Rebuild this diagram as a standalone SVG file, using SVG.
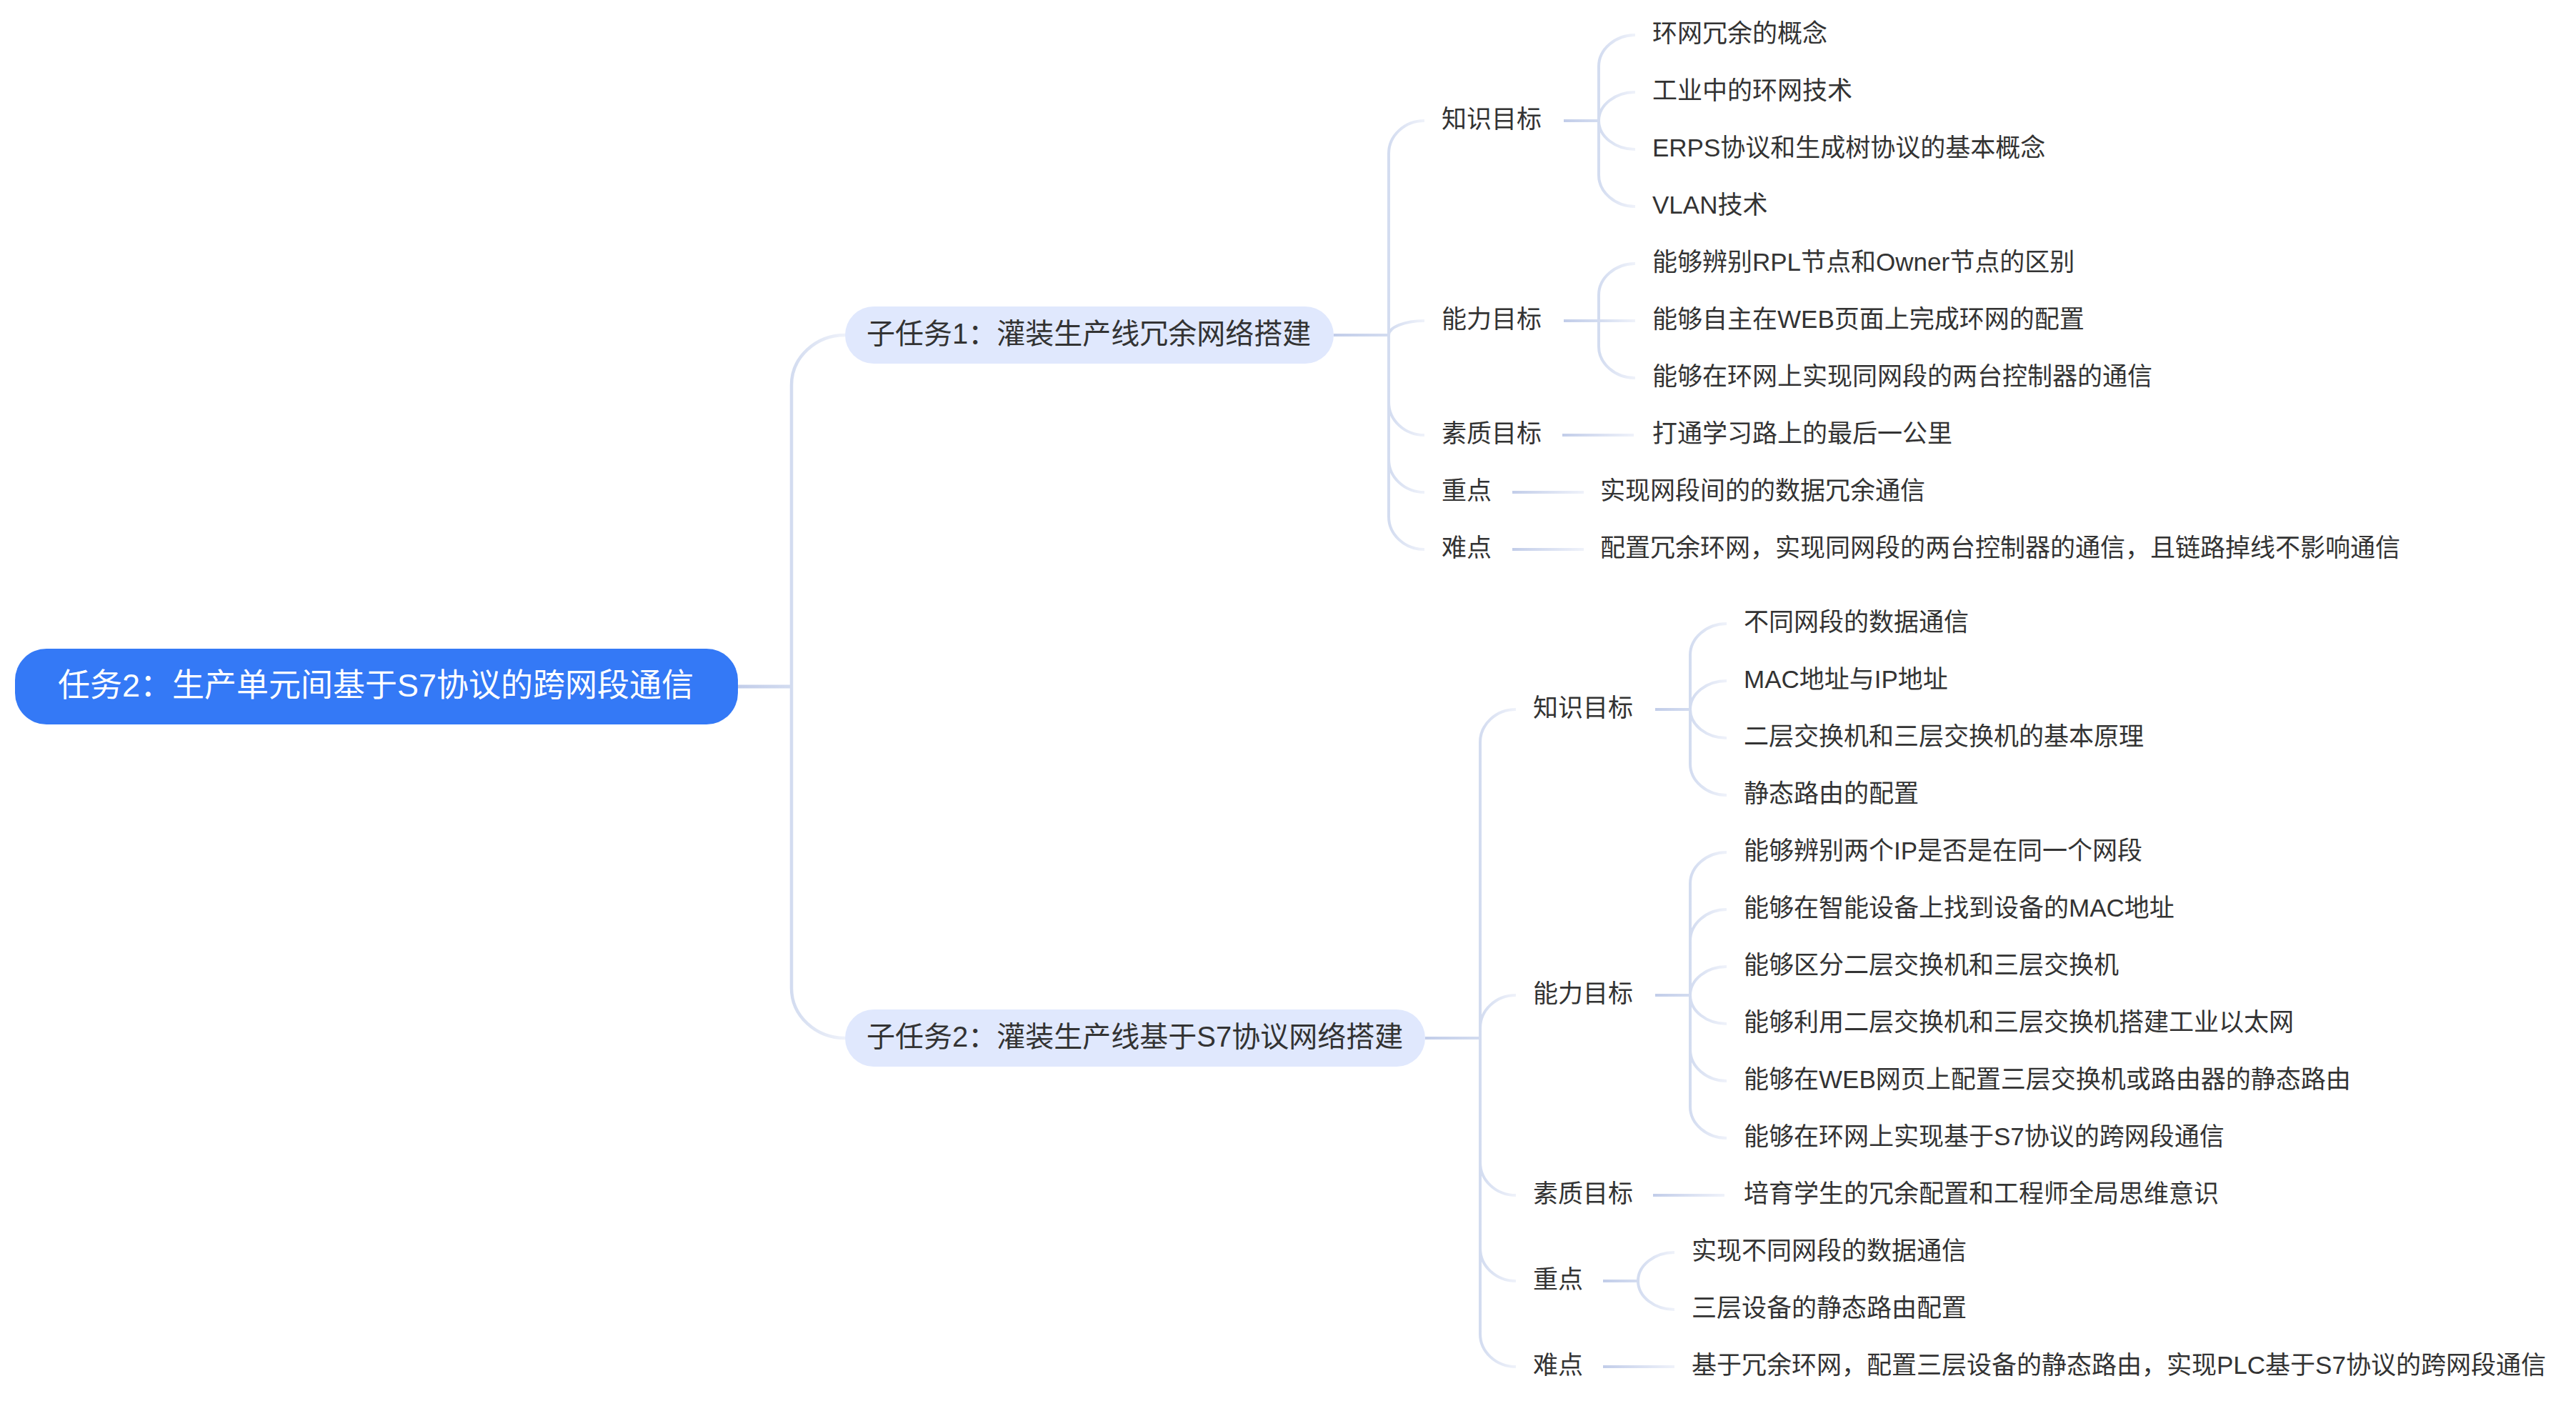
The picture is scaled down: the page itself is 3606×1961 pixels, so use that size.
<svg xmlns="http://www.w3.org/2000/svg" width="3606" height="1961" viewBox="0 0 3606 1961">
<style>
text{font-family:"Liberation Sans","Noto Sans CJK SC",sans-serif;fill:#333333}
.lbl{font-size:35px}
.sub{font-size:40px}
.root{font-size:45px;fill:#ffffff}
.br{fill:none;stroke:url(#gBranch);stroke-width:4}
.br1{fill:none;stroke:url(#gBranch);stroke-width:4.5}
.stub{fill:url(#gStub)}
.leaf{fill:url(#gLeaf)}
.subbox{fill:#e0e8fd}
</style>
<defs>
<linearGradient id="gBranch" x1="0" y1="0" x2="1" y2="0">
<stop offset="0" stop-color="#d3dcf0"/>
<stop offset="1" stop-color="#eff2fa"/>
</linearGradient>
<linearGradient id="gStub" x1="0" y1="0" x2="1" y2="0">
<stop offset="0" stop-color="#c2cde9"/>
<stop offset="1" stop-color="#d3dcf0"/>
</linearGradient>
<linearGradient id="gLeaf" x1="0" y1="0" x2="1" y2="0">
<stop offset="0" stop-color="#c2cde9"/>
<stop offset="1" stop-color="#eff2fa"/>
</linearGradient>
</defs>
<rect width="3606" height="1961" fill="#ffffff"/>

<g id="connectors">
<!-- level 1 -->
<rect class="stub" x="1033" y="958.5" width="75" height="5"/>
<path class="br1" d="M1108 961V539C1108 500 1142 469 1183 469"/>
<path class="br1" d="M1108 961V1383C1108 1422 1142 1453 1183 1453"/>
<!-- subtask 1 -->
<rect class="stub" x="1867" y="467" width="77" height="4"/>
<path class="br" d="M1944 469V215C1944 190 1966 169 1994 169"/>
<path class="br" d="M1944 469C1944 458 1966 449 1994 449"/>
<path class="br" d="M1944 469V563C1944 588 1966 609 1994 609"/>
<path class="br" d="M1944 469V643C1944 668 1966 689 1994 689"/>
<path class="br" d="M1944 469V723C1944 748 1966 769 1994 769"/>
<rect class="stub" x="2189" y="167" width="49" height="4"/>
<path class="br" d="M2238 169V93C2238 69 2261 49 2289 49"/>
<path class="br" d="M2238 169C2238 147 2261 129 2289 129"/>
<path class="br" d="M2238 169C2238 191 2261 209 2289 209"/>
<path class="br" d="M2238 169V245C2238 269 2261 289 2289 289"/>
<rect class="stub" x="2189" y="447" width="49" height="4"/>
<path class="br" d="M2238 449V413C2238 389 2261 369 2289 369"/>
<rect x="2238" y="447" width="51" height="4" fill="url(#gBranch)"/>
<path class="br" d="M2238 449V485C2238 509 2261 529 2289 529"/>
<rect class="leaf" x="2187" y="607" width="100" height="4"/>
<rect class="leaf" x="2117" y="687" width="100" height="4"/>
<rect class="leaf" x="2117" y="767" width="100" height="4"/>
<!-- subtask 2 -->
<rect class="stub" x="1995" y="1451" width="77" height="4"/>
<path class="br" d="M2072 1453V1039C2072 1014 2094 993 2122 993"/>
<path class="br" d="M2072 1453V1439C2072 1414 2094 1393 2122 1393"/>
<path class="br" d="M2072 1453V1627C2072 1652 2094 1673 2122 1673"/>
<path class="br" d="M2072 1453V1747C2072 1772 2094 1793 2122 1793"/>
<path class="br" d="M2072 1453V1867C2072 1892 2094 1913 2122 1913"/>
<rect class="stub" x="2317" y="991" width="49" height="4"/>
<path class="br" d="M2366 993V917C2366 893 2389 873 2417 873"/>
<path class="br" d="M2366 993C2366 971 2389 953 2417 953"/>
<path class="br" d="M2366 993C2366 1015 2389 1033 2417 1033"/>
<path class="br" d="M2366 993V1069C2366 1093 2389 1113 2417 1113"/>
<rect class="stub" x="2317" y="1391" width="49" height="4"/>
<path class="br" d="M2366 1393V1237C2366 1213 2389 1193 2417 1193"/>
<path class="br" d="M2366 1393V1317C2366 1293 2389 1273 2417 1273"/>
<path class="br" d="M2366 1393C2366 1371 2389 1353 2417 1353"/>
<path class="br" d="M2366 1393C2366 1415 2389 1433 2417 1433"/>
<path class="br" d="M2366 1393V1469C2366 1493 2389 1513 2417 1513"/>
<path class="br" d="M2366 1393V1549C2366 1573 2389 1593 2417 1593"/>
<rect class="leaf" x="2314" y="1671" width="100" height="4"/>
<rect class="stub" x="2244" y="1791" width="49" height="4"/>
<path class="br" d="M2293 1793C2293 1771 2316 1753 2344 1753"/>
<path class="br" d="M2293 1793C2293 1815 2316 1833 2344 1833"/>
<rect class="leaf" x="2244" y="1911" width="100" height="4"/>
</g>

<g id="root">
<rect x="21" y="908" width="1012" height="106" rx="44" fill="#3479f6"/>
<text class="root" x="81" y="975">任务2：生产单元间基于S7协议的跨网段通信</text>
</g>

<g id="sub1">
<rect class="subbox" x="1183" y="429" width="684" height="80" rx="40"/>
<text class="sub" x="1213" y="481">子任务1：灌装生产线冗余网络搭建</text>
</g>
<g id="sub1-knowledge"><text class="lbl" x="2018" y="179">知识目标</text></g>
<g id="sub1-k1"><text class="lbl" x="2313" y="59">环网冗余的概念</text></g>
<g id="sub1-k2"><text class="lbl" x="2313" y="139">工业中的环网技术</text></g>
<g id="sub1-k3"><text class="lbl" x="2313" y="219">ERPS协议和生成树协议的基本概念</text></g>
<g id="sub1-k4"><text class="lbl" x="2313" y="299">VLAN技术</text></g>
<g id="sub1-ability"><text class="lbl" x="2018" y="459">能力目标</text></g>
<g id="sub1-a1"><text class="lbl" x="2313" y="379">能够辨别RPL节点和Owner节点的区别</text></g>
<g id="sub1-a2"><text class="lbl" x="2313" y="459">能够自主在WEB页面上完成环网的配置</text></g>
<g id="sub1-a3"><text class="lbl" x="2313" y="539">能够在环网上实现同网段的两台控制器的通信</text></g>
<g id="sub1-quality"><text class="lbl" x="2018" y="619">素质目标</text></g>
<g id="sub1-q1"><text class="lbl" x="2313" y="619">打通学习路上的最后一公里</text></g>
<g id="sub1-key"><text class="lbl" x="2018" y="699">重点</text></g>
<g id="sub1-key1"><text class="lbl" x="2240" y="699">实现网段间的的数据冗余通信</text></g>
<g id="sub1-hard"><text class="lbl" x="2018" y="779">难点</text></g>
<g id="sub1-hard1"><text class="lbl" x="2240" y="779">配置冗余环网，实现同网段的两台控制器的通信，且链路掉线不影响通信</text></g>

<g id="sub2">
<rect class="subbox" x="1183" y="1413" width="812" height="80" rx="40"/>
<text class="sub" x="1213" y="1465">子任务2：灌装生产线基于S7协议网络搭建</text>
</g>
<g id="sub2-knowledge"><text class="lbl" x="2146" y="1003">知识目标</text></g>
<g id="sub2-k1"><text class="lbl" x="2441" y="883">不同网段的数据通信</text></g>
<g id="sub2-k2"><text class="lbl" x="2441" y="963">MAC地址与IP地址</text></g>
<g id="sub2-k3"><text class="lbl" x="2441" y="1043">二层交换机和三层交换机的基本原理</text></g>
<g id="sub2-k4"><text class="lbl" x="2441" y="1123">静态路由的配置</text></g>
<g id="sub2-ability"><text class="lbl" x="2146" y="1403">能力目标</text></g>
<g id="sub2-a1"><text class="lbl" x="2441" y="1203">能够辨别两个IP是否是在同一个网段</text></g>
<g id="sub2-a2"><text class="lbl" x="2441" y="1283">能够在智能设备上找到设备的MAC地址</text></g>
<g id="sub2-a3"><text class="lbl" x="2441" y="1363">能够区分二层交换机和三层交换机</text></g>
<g id="sub2-a4"><text class="lbl" x="2441" y="1443">能够利用二层交换机和三层交换机搭建工业以太网</text></g>
<g id="sub2-a5"><text class="lbl" x="2441" y="1523">能够在WEB网页上配置三层交换机或路由器的静态路由</text></g>
<g id="sub2-a6"><text class="lbl" x="2441" y="1603">能够在环网上实现基于S7协议的跨网段通信</text></g>
<g id="sub2-quality"><text class="lbl" x="2146" y="1683">素质目标</text></g>
<g id="sub2-q1"><text class="lbl" x="2441" y="1683">培育学生的冗余配置和工程师全局思维意识</text></g>
<g id="sub2-key"><text class="lbl" x="2146" y="1803">重点</text></g>
<g id="sub2-key1"><text class="lbl" x="2368" y="1763">实现不同网段的数据通信</text></g>
<g id="sub2-key2"><text class="lbl" x="2368" y="1843">三层设备的静态路由配置</text></g>
<g id="sub2-hard"><text class="lbl" x="2146" y="1923">难点</text></g>
<g id="sub2-hard1"><text class="lbl" x="2368" y="1923">基于冗余环网，配置三层设备的静态路由，实现PLC基于S7协议的跨网段通信</text></g>
</svg>
